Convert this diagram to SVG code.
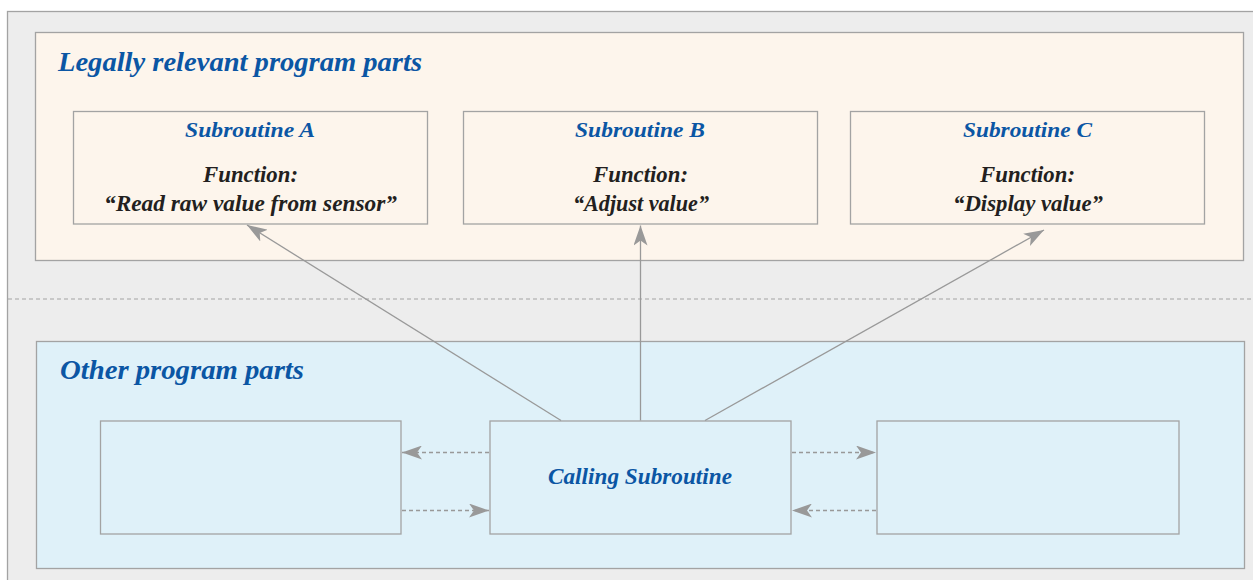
<svg xmlns="http://www.w3.org/2000/svg" width="1253" height="580" viewBox="0 0 1253 580">
<defs>
<style>
.frame{stroke:#a3a3a3;stroke-width:1.3}
.box{stroke:#a3a3a3;stroke-width:1.3}
.t{font-family:"Liberation Serif",serif;font-style:italic;font-weight:bold}
.blue{fill:#0b56a4}
.dark{fill:#231f20}
.con{stroke:#999;stroke-width:1.3;fill:none}
.dash{stroke-dasharray:4 3}
</style>
<marker id="ah" viewBox="0 0 20 14" refX="20" refY="7" markerWidth="20" markerHeight="14" markerUnits="userSpaceOnUse" orient="auto">
<path d="M0,0 L20,7 L0,14 L5,7 Z" fill="#999"/>
</marker>
</defs>
<rect x="0" y="0" width="1253" height="580" fill="#ffffff"/>
<rect x="7.5" y="11.5" width="1260" height="580" fill="#ededed" class="frame"/>
<line x1="8" y1="299" x2="1253" y2="299" stroke="#a3a3a3" stroke-width="1.2" stroke-dasharray="4 3"/>

<g id="legal-area">
<rect x="35.5" y="32.5" width="1208" height="228" fill="#fdf5ec" class="frame"/>
<text x="58" y="71" class="t blue" font-size="28" textLength="364" lengthAdjust="spacingAndGlyphs">Legally relevant program parts</text>
</g>
<g id="other-area">
<rect x="36.5" y="341.5" width="1208" height="227" fill="#dff1f9" class="frame"/>
<text x="60" y="379" class="t blue" font-size="28" textLength="244" lengthAdjust="spacingAndGlyphs">Other program parts</text>
</g>

<g id="subA">
<rect x="73.5" y="111.5" width="354" height="112.5" fill="#fdf5ec" class="box"/>
<text x="185" y="137" class="t blue" font-size="22" textLength="130" lengthAdjust="spacingAndGlyphs">Subroutine A</text>
<text x="203" y="182" class="t dark" font-size="22.5" textLength="95" lengthAdjust="spacingAndGlyphs">Function:</text>
<text x="104" y="211" class="t dark" font-size="22.5" textLength="293" lengthAdjust="spacingAndGlyphs">“Read raw value from sensor”</text>
</g>
<g id="subB">
<rect x="463.5" y="111.5" width="354" height="112.5" fill="#fdf5ec" class="box"/>
<text x="575" y="137" class="t blue" font-size="22" textLength="130" lengthAdjust="spacingAndGlyphs">Subroutine B</text>
<text x="593" y="182" class="t dark" font-size="22.5" textLength="95" lengthAdjust="spacingAndGlyphs">Function:</text>
<text x="573" y="211" class="t dark" font-size="22.5" textLength="136" lengthAdjust="spacingAndGlyphs">“Adjust value”</text>
</g>
<g id="subC">
<rect x="850.5" y="111.5" width="354" height="112.5" fill="#fdf5ec" class="box"/>
<text x="963" y="137" class="t blue" font-size="22" textLength="129" lengthAdjust="spacingAndGlyphs">Subroutine C</text>
<text x="980" y="182" class="t dark" font-size="22.5" textLength="95" lengthAdjust="spacingAndGlyphs">Function:</text>
<text x="953" y="211" class="t dark" font-size="22.5" textLength="150" lengthAdjust="spacingAndGlyphs">“Display value”</text>
</g>

<g id="left-part">
<rect x="100.5" y="421" width="300.5" height="113" fill="#dff1f9" class="box"/>
</g>
<g id="calling">
<rect x="490" y="421" width="301" height="113" fill="#dff1f9" class="box"/>
<text x="548" y="484" class="t blue" font-size="23" textLength="184" lengthAdjust="spacingAndGlyphs">Calling Subroutine</text>
</g>
<g id="right-part">
<rect x="877" y="421" width="302" height="113" fill="#dff1f9" class="box"/>
</g>

<g id="connectors">
<line x1="561" y1="420.5" x2="247" y2="225" class="con" marker-end="url(#ah)"/>
<line x1="640.5" y1="420.5" x2="640.5" y2="225.5" class="con" marker-end="url(#ah)"/>
<line x1="705" y1="420.5" x2="1044" y2="230" class="con" marker-end="url(#ah)"/>
<line x1="489" y1="452.5" x2="402" y2="452.5" class="con dash" marker-end="url(#ah)"/>
<line x1="402" y1="510.5" x2="489" y2="510.5" class="con dash" marker-end="url(#ah)"/>
<line x1="792" y1="452.5" x2="876" y2="452.5" class="con dash" marker-end="url(#ah)"/>
<line x1="876" y1="510.5" x2="792" y2="510.5" class="con dash" marker-end="url(#ah)"/>
</g>
</svg>
